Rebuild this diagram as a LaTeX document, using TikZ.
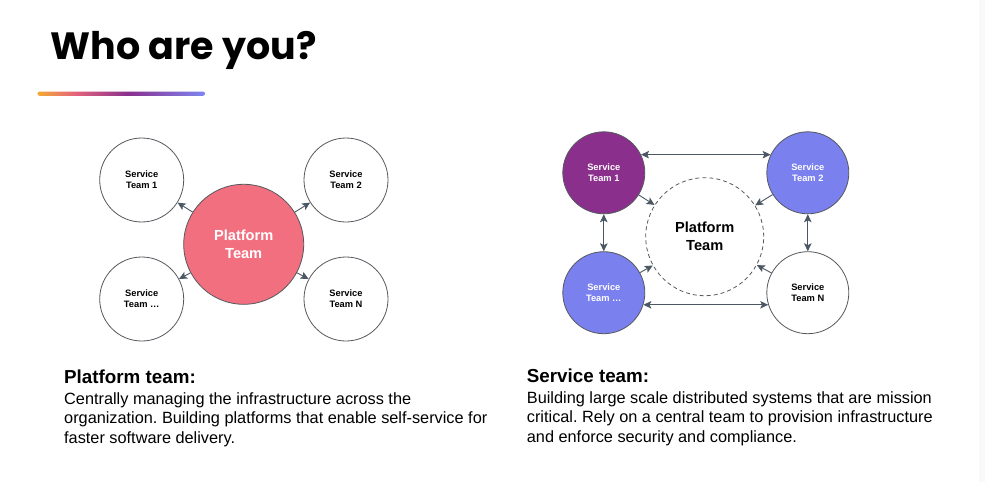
\documentclass[tikz,border=0pt]{standalone}
\usepackage{fontspec}
\setmainfont{Liberation Sans}
\newfontfamily\titlefont{Poppins}
\usetikzlibrary{arrows.meta}
\frenchspacing

\definecolor{ringgray}{HTML}{55595E}
\definecolor{arrowgray}{HTML}{4B5863}
\definecolor{platpink}{HTML}{F26F7F}
\definecolor{svcpurple}{HTML}{8B2F8C}
\definecolor{svcblue}{HTML}{7A80EE}
\definecolor{bandgray}{HTML}{F9F9F9}
\definecolor{gA}{HTML}{F4AA33}
\definecolor{gB}{HTML}{E5647A}
\definecolor{gC}{HTML}{8A2F8E}
\definecolor{gD}{HTML}{7D86F2}

% brand underline: the middle 50bp are stretched over the bar
\pgfdeclarehorizontalshading{brandline}{100bp}{color(0bp)=(gA); color(25bp)=(gA); color(36bp)=(gB); color(52bp)=(gC); color(75bp)=(gD); color(100bp)=(gD)}

\begin{document}
\begin{tikzpicture}[x=1pt,y=-1pt,
  >={Stealth[length=8pt,width=7.5pt,inset=1.8pt]},
  ring/.style={circle, draw=ringgray, line width=0.8pt, inner sep=0pt, align=center},
  svc/.style={ring, fill=white, minimum size=84pt, font=\fontsize{9.3}{11}\selectfont\bfseries},
  hub/.style={ring, minimum size=120pt, font=\fontsize{14.6}{18}\selectfont\bfseries},
  link/.style={draw=arrowgray, line width=0.9pt, ->},
  twoway/.style={draw=arrowgray, line width=0.9pt, <->},
  heading/.style={anchor=base west, inner sep=0pt, font=\fontsize{18.8}{22}\selectfont\bfseries},
  body/.style={anchor=base west, inner sep=0pt, align=left, font=\fontsize{16.3}{19.4}\selectfont},
]
\useasboundingbox (0,0) rectangle (985,482);
\fill[white] (0,0) rectangle (985,482);
\fill[bandgray] (979.3,0) rectangle (985,482);

% title and underline
\node[anchor=base west, inner sep=0pt, font=\titlefont\bfseries\fontsize{38}{40}\selectfont] (title) at (50.7,59.3) {Who are you?};
\shade[shading=brandline, rounded corners=2.1pt] (37.5,91.5) rectangle (205,95.8);

% platform-centred model
\node[hub, fill=platpink, text=white] (P) at (243.7,244.3) {Platform\\Team};
\node[svc] (A1) at (141.7,180) {Service\\Team 1};
\node[svc] (A2) at (346,180) {Service\\Team 2};
\node[svc] (A3) at (141.7,299) {Service\\Team \dots};
\node[svc] (A4) at (346,299) {Service\\Team N};
\foreach \t in {A1,A2,A3,A4} \draw[link] (P) -- (\t);

% service-centred model
\node[hub, fill=white, dash pattern=on 4pt off 3pt, minimum size=118pt] (Q) at (704.7,236.7) {Platform\\Team};
\node[svc, fill=svcpurple, text=white, minimum size=82pt] (B1) at (603.8,172.8) {Service\\Team 1};
\node[svc, fill=svcblue, text=white, minimum size=82pt] (B2) at (807.8,172.8) {Service\\Team 2};
\node[svc, fill=svcblue, text=white, minimum size=82pt] (B3) at (603.8,292.7) {Service\\Team \dots};
\node[svc, minimum size=82pt] (B4) at (807.8,292.7) {Service\\Team N};
\draw[twoway] (B1.26) -- (B2.154);
\draw[twoway] (B3.-17) -- (B4.-163);
\draw[twoway] (B1.south) -- (B3.north);
\draw[twoway] (B2.south) -- (B4.north);
\foreach \t in {B1,B2,B3,B4} \draw[link] (\t) -- (Q);

% captions (multi-line nodes sit on the baseline of their last line)
\node[heading] (ph) at (64,383.3) {Platform team:};
\node[body] (pb) at (64,443.2) {Centrally managing the infrastructure across the\\organization. Building platforms that enable self-service for\\faster software delivery.};
\node[heading] (sh) at (526.7,382.7) {Service team:};
\node[body] (sb) at (526.7,442.3) {Building large scale distributed systems that are mission\\critical. Rely on a central team to provision infrastructure\\and enforce security and compliance.};
\end{tikzpicture}
\end{document}
